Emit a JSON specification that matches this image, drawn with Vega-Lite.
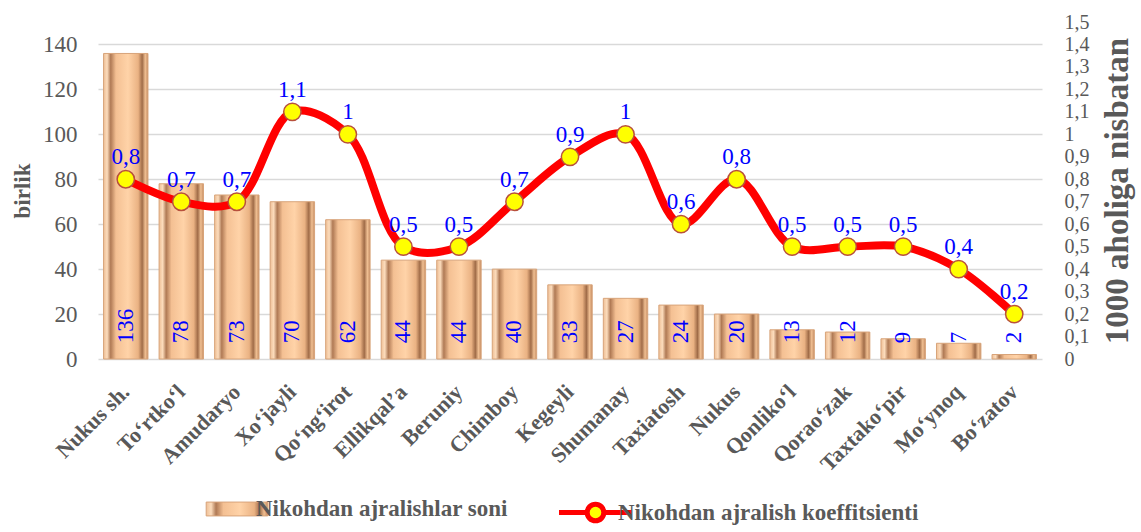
{
  "$schema": "https://vega.github.io/schema/vega-lite/v6.json",
  "width": 944,
  "height": 337,
  "padding": {"left": 11, "top": 12, "right": 5, "bottom": 0},
  "background": "white",
  "config": {
    "locale": {"number": {"decimal": ",", "thousands": " ", "grouping": [3], "currency": ["", ""]}},
    "view": {"stroke": null},
    "font": "Liberation Serif",
    "axis": {"labelFont": "Liberation Serif", "titleFont": "Liberation Serif", "labelColor": "#595959", "titleColor": "#595959"},
    "legend": {"labelFont": "Liberation Serif", "labelFontWeight": "bold", "labelFontSize": 23, "labelColor": "#595959", "orient": "bottom", "labelLimit": 500, "offset": 18, "labelOffset": 3,
      "layout": {"bottom": {"anchor": "middle", "direction": "horizontal", "margin": 68}}}
  },
  "data": {
    "values": [
      {"district": "Nukus sh.", "count": 136, "coef": 0.8},
      {"district": "To‘rtko‘l", "count": 78, "coef": 0.7},
      {"district": "Amudaryo", "count": 73, "coef": 0.7},
      {"district": "Xo‘jayli", "count": 70, "coef": 1.1},
      {"district": "Qo‘ng‘irot", "count": 62, "coef": 1.0},
      {"district": "Ellikqal’a", "count": 44, "coef": 0.5},
      {"district": "Beruniy", "count": 44, "coef": 0.5},
      {"district": "Chimboy", "count": 40, "coef": 0.7},
      {"district": "Kegeyli", "count": 33, "coef": 0.9},
      {"district": "Shumanay", "count": 27, "coef": 1.0},
      {"district": "Taxiatosh", "count": 24, "coef": 0.6},
      {"district": "Nukus", "count": 20, "coef": 0.8},
      {"district": "Qonliko‘l", "count": 13, "coef": 0.5},
      {"district": "Qorao‘zak", "count": 12, "coef": 0.5},
      {"district": "Taxtako‘pir", "count": 9, "coef": 0.5},
      {"district": "Mo‘ynoq", "count": 7, "coef": 0.4},
      {"district": "Bo‘zatov", "count": 2, "coef": 0.2}
    ]
  },
  "layer": [
    {
      "layer": [
        {
          "mark": {"type": "bar", "strokeWidth": 1, "fill": {"gradient": "linear", "x1": 0, "x2": 1, "y1": 0, "y2": 0, "stops": [
                {"offset": 0, "color": "#eebf96"},
                {"offset": 0.08, "color": "#fcdcbc"},
                {"offset": 0.16, "color": "#b07a55"},
                {"offset": 0.28, "color": "#f4c093"},
                {"offset": 0.55, "color": "#ffd3a8"},
                {"offset": 0.78, "color": "#eab283"},
                {"offset": 0.87, "color": "#a06c48"},
                {"offset": 0.94, "color": "#f0bf92"},
                {"offset": 1, "color": "#c48c62"}
              ]}},
          "encoding": {
            "x": {
              "field": "district", "type": "nominal", "sort": null,
              "scale": {"paddingInner": 0.2, "paddingOuter": 0.1},
              "axis": {"title": null, "labelAngle": -45, "labelAlign": "right", "labelBaseline": "middle", "labelFontWeight": "bold", "labelFontSize": 22, "ticks": false, "domain": false, "labelPadding": 29, "grid": false}
            },
            "y": {
              "field": "count", "type": "quantitative",
              "scale": {"domain": [0, 150], "nice": false},
              "axis": {"title": "birlik", "titleFontSize": 23, "titleFontWeight": "bold", "titlePadding": 8, "values": [0, 20, 40, 60, 80, 100, 120, 140], "tickCount": 20, "labelFontSize": 23, "labelPadding": 21, "labelOverlap": false, "ticks": false, "domain": false, "grid": true, "gridColor": "#d9d9d9", "gridWidth": 1.5}
            },
            "stroke": {
              "datum": "Nikohdan ajralishlar soni",
              "scale": {"range": ["#d8a47a"]},
              "legend": {"title": null, "symbolType": "M-2,-0.45H2V0.45H-2Z", "symbolSize": 950, "symbolStrokeWidth": 1,
                "encode": {"symbols": {"update": {"fill": {"value": {"gradient": "linear", "x1": 0, "x2": 0, "y1": 0, "y2": 1, "stops": [
                  {"offset": 0, "color": "#fde0c0"},
                  {"offset": 0.5, "color": "#f5c196"},
                  {"offset": 1, "color": "#b98058"}]}}, "fillOpacity": {"value": 1}}}}}
            }
          }
        },
        {
          "mark": {"type": "text", "angle": 270, "align": "left", "baseline": "middle", "color": "#0000ff", "fontSize": 23},
          "encoding": {
            "x": {"field": "district", "type": "nominal", "sort": null},
            "y": {"datum": 7},
            "text": {"field": "count", "type": "quantitative"}
          }
        }
      ]
    },
    {
      "layer": [
        {
          "mark": {"type": "line", "interpolate": "catmull-rom", "strokeWidth": 8, "strokeCap": "round"},
          "encoding": {
            "x": {"field": "district", "type": "nominal", "sort": null},
            "y": {
              "field": "coef", "type": "quantitative",
              "scale": {"domain": [0, 1.5], "nice": false},
              "axis": {"orient": "right", "title": "1000 aholiga nisbatan", "titleAngle": 270, "titleBaseline": "top", "titleFontSize": 33, "titleFontWeight": "bold", "titlePadding": 12, "values": [0, 0.1, 0.2, 0.3, 0.4, 0.5, 0.6, 0.7, 0.8, 0.9, 1, 1.1, 1.2, 1.3, 1.4, 1.5], "tickCount": 20, "format": ".1~f", "labelFontSize": 20, "labelPadding": 22, "labelOverlap": false, "ticks": false, "domain": false, "grid": false}
            },
            "stroke": {
              "datum": "Nikohdan ajralish koeffitsienti",
              "scale": {"range": ["#ff0000"]},
              "legend": {"title": null, "symbolType": "M-2.2,0H-0.5M0.5,0H2.2M0.5,0A0.5,0.5 0 1,1 -0.5,0A0.5,0.5 0 1,1 0.5,0", "symbolSize": 1100, "symbolStrokeWidth": 5, "encode": {"symbols": {"update": {"fill": {"value": "#ffff00"}, "fillOpacity": {"value": 1}, "strokeWidth": {"value": 5}}}}}
            }
          }
        },
        {
          "mark": {"type": "point", "filled": true, "fill": "#ffff00", "stroke": "#b8503c", "strokeWidth": 1.5, "size": 300, "opacity": 1},
          "encoding": {
            "x": {"field": "district", "type": "nominal", "sort": null},
            "y": {"field": "coef", "type": "quantitative"}
          }
        },
        {
          "mark": {"type": "text", "dy": -22, "color": "#0000ff", "fontSize": 23},
          "encoding": {
            "x": {"field": "district", "type": "nominal", "sort": null},
            "y": {"field": "coef", "type": "quantitative"},
            "text": {"field": "coef", "type": "quantitative", "format": "~g"}
          }
        }
      ]
    }
  ],
  "resolve": {"scale": {"y": "independent", "stroke": "independent"}}
}
